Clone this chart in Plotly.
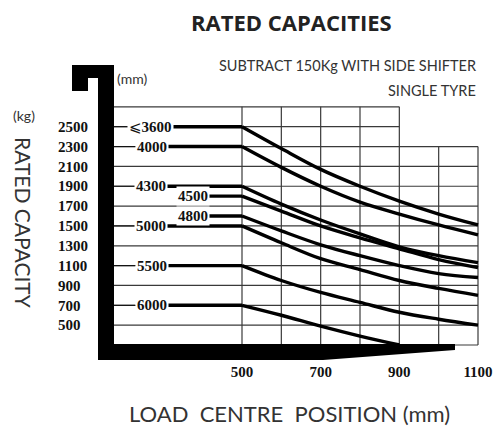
import plotly.graph_objects as go

# ---------------- data ----------------
LOAD_CENTRES = [500, 600, 700, 800, 900, 1000, 1100]          # mm
MAST_LABELS = ["⩽3600", "4000", "4300", "4500", "4800", "5000", "5500", "6000"]
RATED_KG = [2500, 2300, 1900, 1800, 1600, 1500, 1100, 700]

cap_3600 = [2500, 2280, 2070, 1900, 1750, 1620, 1510]
cap_4000 = [2300, 2090, 1900, 1740, 1620, 1510, 1410]
cap_4300 = [1900, 1720, 1560, 1420, 1290, 1200, 1130]
cap_4500 = [1800, 1650, 1500, 1380, 1270, 1160, 1080]
cap_4800 = [1600, 1450, 1310, 1200, 1100, 1020, 980]
cap_5000 = [1500, 1330, 1170, 1060, 950, 870, 800]
cap_5500 = [1100, 950, 830, 730, 630, 560, 500]
cap_6000 = [700, 600, 490, 390, 300, None, None]
CURVES = [cap_3600, cap_4000, cap_4300, cap_4500, cap_4800, cap_5000, cap_5500, cap_6000]

Y_TICKS = [500, 700, 900, 1100, 1300, 1500, 1700, 1900, 2100, 2300, 2500]
X_TICKS = [500, 700, 900, 1100]
GRID_KG = [300, 500, 700, 900, 1100, 1300, 1500, 1700, 1900, 2100, 2300, 2500, 2700]
GRID_MM = [500, 600, 700, 800, 900, 1000, 1100]

# ---------------- layout geometry (pixels) ----------------
W, H = 498, 428
L, R, T, B = 52, 490, 60, 361
PX_PER_MM = 0.39333
PX_PER_KG = 0.09923


def X(px):
    return 500 + (px - 242) / PX_PER_MM


def Y(py):
    return 2500 - (py - 126.7) / PX_PER_KG


def PX(px):
    return (px - L) / (R - L)


def PY(py):
    return (B - py) / (B - T)


XR = [X(L), X(R)]
YR = [Y(B), Y(T)]
GRID_LEFT = X(114)

# label placement (style): text left/right edges in mm, thin lead line?
LABEL_BOX = {
    "⩽3600": (X(128), X(173), True),
    "4000": (X(135), X(168), True),
    "4300": (X(135), X(166), True),
    "4500": (X(177), X(208), False),
    "4800": (X(177), X(208), False),
    "5000": (X(135), X(167), True),
    "5500": (X(135), X(168), True),
    "6000": (X(135), X(168), True),
}

fig = go.Figure()

# grid (stepped)
gx, gy = [], []
for v in GRID_KG:
    right = 900 if v > 2300 else 1100
    gx += [GRID_LEFT, right, None]
    gy += [v, v, None]
for m in GRID_MM:
    top = 2700 if m <= 900 else 2300
    gx += [m, m, None]
    gy += [300, top, None]
fig.add_trace(go.Scatter(x=gx, y=gy, mode="lines", line=dict(color="#3a3a3a", width=1.2),
                         hoverinfo="skip", showlegend=False))

SERIF = "Liberation Serif"

for lab, kg, curve in zip(MAST_LABELS, RATED_KG, CURVES):
    left, right, lead = LABEL_BOX[lab]
    if lead:
        fig.add_trace(go.Scatter(x=[GRID_LEFT, left], y=[kg, kg], mode="lines",
                                 line=dict(color="#111", width=1.1), hoverinfo="skip", showlegend=False))
    fig.add_trace(go.Scatter(x=[right, LOAD_CENTRES[0]], y=[kg, kg], mode="lines",
                             line=dict(color="#000", width=3.4), hoverinfo="skip", showlegend=False))
    xs = [x for x, y in zip(LOAD_CENTRES, curve) if y is not None]
    ys = [y for y in curve if y is not None]
    fig.add_trace(go.Scatter(x=xs, y=ys, mode="lines", line=dict(color="#000", width=3.4, shape="spline", smoothing=1),
                             hoverinfo="skip", showlegend=False))
    shown = lab
    if lab.startswith("⩽"):
        shown = "<span style='font-family:DejaVu Sans;font-weight:normal'>⩽</span>" + lab[1:]
    fig.add_annotation(x=(left + right) / 2, y=kg, xref="x", yref="y", text=shown, showarrow=False,
                       font=dict(family=SERIF, size=15, color="#111", weight="bold"),
                       xanchor="center", yanchor="middle", bgcolor="white")

# black mast/fork frame
pts = [(72, 65), (114, 65), (114, 344), (455, 344), (455, 350), (323, 360), (98, 360),
       (98, 78), (88, 78), (88, 91), (72, 91)]
path = "M " + " L ".join(f"{X(a):.2f},{Y(b):.2f}" for a, b in pts) + " Z"
fig.add_shape(type="path", path=path, xref="x", yref="y", fillcolor="#000", line=dict(width=0), layer="above")

SANS = "Lato"
NB = "\u00a0"
texts = [
    ("RATED CAPACITIES", 291, 22, "center", dict(family="Open Sans", size=22, color="#222", weight="bold"), 0),
    ("SUBTRACT 150Kg WITH SIDE SHIFTER", 478, 65, "right", dict(family=SANS, size=14.5, color="#333"), 0),
    ("SINGLE TYRE", 478, 90, "right", dict(family=SANS, size=14.5, color="#333"), 0),
    ("(mm)", 115, 79, "left", dict(family=SANS, size=14, color="#333"), 0),
    ("(kg)", 24, 115, "center", dict(family=SANS, size=14, color="#333"), 0),
    ("RATED CAPACITY", 24, 223, "center", dict(family=SANS, size=21, color="#333"), 90),
    (f"LOAD{NB}{NB}CENTRE{NB}{NB}POSITION{NB}(mm)", 289, 413, "center", dict(family=SANS, size=22, color="#333"), 0),
]
for t, px, py, anc, f, ang in texts:
    fig.add_annotation(x=PX(px), y=PY(py), xref="paper", yref="paper", text=t, showarrow=False,
                       xanchor=anc, yanchor="middle", font=f, textangle=ang)

fig.update_layout(
    width=W, height=H,
    margin=dict(l=L, r=W - R, t=T, b=H - B, pad=0),
    paper_bgcolor="white", plot_bgcolor="white",
    showlegend=False,
    xaxis=dict(range=XR, tickvals=X_TICKS, ticktext=[str(v) for v in X_TICKS], showgrid=False,
               zeroline=False, showline=False, ticks="",
               tickfont=dict(family=SERIF, size=15, color="#111", weight="bold"),
               fixedrange=True, automargin=False),
    yaxis=dict(range=YR, tickvals=Y_TICKS, ticktext=[str(v) for v in Y_TICKS], showgrid=False,
               zeroline=False, showline=False, ticks="", ticklabelposition="inside", ticklabelstandoff=3,
               tickfont=dict(family=SERIF, size=15, color="#111", weight="bold"),
               fixedrange=True, automargin=False),
)

fig.write_html("out.html", config={"displayModeBar": False},
               post_script="document.body.style.margin='0px';document.body.style.overflow='hidden';")
